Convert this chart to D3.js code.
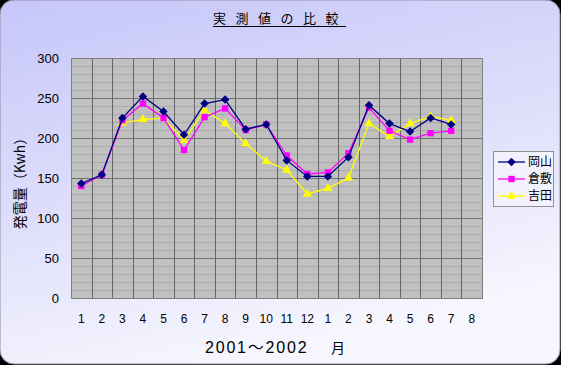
<!DOCTYPE html>
<html>
<head>
<meta charset="utf-8">
<script src="https://cdn.jsdelivr.net/npm/d3@7"></script>
<style>
  body { margin: 0; background: #000; }
  svg { display: block; }
  text { font-family: "Liberation Sans", "Noto Sans CJK JP", sans-serif; fill: #000; }
</style>
</head>
<body>
<div id="chart"></div>
<script>
var width = 561;
var height = 365;

// month labels on the x axis (2001-01 .. 2002-08)
var months = ["1", "2", "3", "4", "5", "6", "7", "8", "9", "10", "11", "12",
  "1", "2", "3", "4", "5", "6", "7", "8"];

// measured values (Kwh), null where nothing was measured
var okayama = [143, 154, 225, 252, 233, 204, 243, 248, 211, 217, 172, 152,
  152, 176, 241, 218, 208, 225, 217];
var kurashiki = [140, 154, 222, 243, 225, 185, 226, 237, 210, 217, 178, 155,
  157, 181, 238, 209, 198, 206, 209];
var yoshida = [null, null, 219, 223, 225, 197, 235, 218, 193, 171, 160, 130,
  137, 150, 218, 202, 218, 227, 222];

var seriesNames = ["岡山", "倉敷", "吉田"];
var yTicks = [0, 50, 100, 150, 200, 250, 300];

var plot = { left: 71, right: 482, top: 58, bottom: 298 };

const svg = d3
  .select("#chart")
  .append("svg")
  .attr("width", width)
  .attr("height", height);

// background gradient
const defs = svg.append("defs");
const grad = defs
  .append("linearGradient")
  .attr("id", "bg")
  .attr("x1", "0%")
  .attr("y1", "0%")
  .attr("x2", "35%")
  .attr("y2", "100%");
grad.append("stop").attr("offset", "0%").attr("stop-color", "#c6c6fa");
grad.append("stop").attr("offset", "55%").attr("stop-color", "#dedefb");
grad.append("stop").attr("offset", "100%").attr("stop-color", "#f6f6fe");

svg
  .append("rect")
  .attr("x", 0)
  .attr("y", 0)
  .attr("width", width - 1)
  .attr("height", height - 1)
  .attr("rx", 14)
  .attr("fill", "url(#bg)")
  .attr("stroke", "#9090a0")
  .attr("stroke-width", 1);

// scales
const xScale = d3
  .scaleBand()
  .domain(d3.range(months.length))
  .range([plot.left, plot.right]);

const yScale = d3.scaleLinear().domain([0, 300]).range([plot.bottom, plot.top]);

// plot area
svg
  .append("rect")
  .attr("x", plot.left)
  .attr("y", plot.top)
  .attr("width", plot.right - plot.left)
  .attr("height", plot.bottom - plot.top)
  .attr("fill", "#c0c0c0");

// minor horizontal grid every 10
svg
  .append("g")
  .selectAll("line")
  .data(d3.range(10, 300, 10).filter((d) => d % 50 !== 0))
  .enter()
  .append("line")
  .attr("x1", plot.left)
  .attr("x2", plot.right)
  .attr("y1", (d) => Math.round(yScale(d)) + 0.5)
  .attr("y2", (d) => Math.round(yScale(d)) + 0.5)
  .attr("stroke", "#ababab")
  .attr("stroke-width", 1);

// major horizontal grid every 50
svg
  .append("g")
  .selectAll("line")
  .data(yTicks)
  .enter()
  .append("line")
  .attr("x1", plot.left)
  .attr("x2", plot.right)
  .attr("y1", (d) => Math.round(yScale(d)) + 0.5)
  .attr("y2", (d) => Math.round(yScale(d)) + 0.5)
  .attr("stroke", "#707070")
  .attr("stroke-width", 1);

// vertical grid between months
svg
  .append("g")
  .selectAll("line")
  .data(d3.range(months.length + 1))
  .enter()
  .append("line")
  .attr("x1", (d) => Math.round(plot.left + d * xScale.bandwidth()) + 0.5)
  .attr("x2", (d) => Math.round(plot.left + d * xScale.bandwidth()) + 0.5)
  .attr("y1", plot.top)
  .attr("y2", plot.bottom)
  .attr("stroke", "#666666")
  .attr("stroke-width", 1);

svg
  .append("rect")
  .attr("x", plot.left + 0.5)
  .attr("y", plot.top + 0.5)
  .attr("width", plot.right - plot.left)
  .attr("height", plot.bottom - plot.top)
  .attr("fill", "none")
  .attr("stroke", "#808080");

// axes
svg
  .append("g")
  .attr("class", "y-axis")
  .attr("transform", `translate(${plot.left},0)`)
  .call(d3.axisLeft(yScale).tickValues(yTicks).tickSize(0).tickPadding(12))
  .call((g) => g.select(".domain").remove())
  .selectAll("text")
  .style("font-size", "13px")
  .style("font-family", "'Liberation Sans', sans-serif");

svg
  .append("g")
  .attr("class", "x-axis")
  .attr("transform", `translate(0,${plot.bottom})`)
  .call(
    d3
      .axisBottom(xScale)
      .tickFormat((i) => months[i])
      .tickSize(0)
      .tickPadding(16)
  )
  .call((g) => g.select(".domain").remove())
  .selectAll("text")
  .style("font-size", "12px")
  .style("font-family", "'Liberation Sans', sans-serif");

// marker shapes: square turned 45deg for the diamond
var diamond = {
  draw: function (ctx, size) {
    var r = Math.sqrt(size / 2);
    ctx.moveTo(0, -r);
    ctx.lineTo(r, 0);
    ctx.lineTo(0, r);
    ctx.lineTo(-r, 0);
    ctx.closePath();
  }
};

// series lines and markers
var series = [
  { name: seriesNames[0], values: okayama, color: "#000080", shape: diamond, size: 36 },
  { name: seriesNames[1], values: kurashiki, color: "#ff00ff", shape: d3.symbolSquare, size: 40 },
  { name: seriesNames[2], values: yoshida, color: "#ffff00", shape: d3.symbolTriangle, size: 36 }
];

const line = d3
  .line()
  .defined((d) => d != null)
  .x((d, i) => xScale(i) + xScale.bandwidth() / 2)
  .y((d) => yScale(d));

series
  .slice()
  .reverse()
  .forEach(function (s) {
    svg
      .append("path")
      .attr("d", line(s.values))
      .attr("fill", "none")
      .attr("stroke", s.color)
      .attr("stroke-width", 1.3);

    svg
      .append("g")
      .selectAll("path")
      .data(s.values.map((v, i) => [i, v]).filter((d) => d[1] != null))
      .enter()
      .append("path")
      .attr("d", d3.symbol().type(s.shape).size(s.size))
      .attr(
        "transform",
        (d) => `translate(${xScale(d[0]) + xScale.bandwidth() / 2},${yScale(d[1])})`
      )
      .attr("fill", s.color);
  });

// legend
const legend = svg.append("g").attr("transform", "translate(493,151)");
legend
  .append("rect")
  .attr("x", 0.5)
  .attr("y", 0.5)
  .attr("width", 60)
  .attr("height", 55)
  .attr("fill", "#f2f2fe")
  .attr("stroke", "#909090");

const item = legend
  .selectAll(".item")
  .data(series)
  .enter()
  .append("g")
  .attr("transform", (d, i) => `translate(0,${11 + i * 17})`);

item
  .append("line")
  .attr("x1", 5)
  .attr("x2", 32)
  .attr("stroke", (d) => d.color)
  .attr("stroke-width", 1.3);

item
  .append("path")
  .attr("d", (d) => d3.symbol().type(d.shape).size(d.size)())
  .attr("transform", "translate(18.5,0)")
  .attr("fill", (d) => d.color);

item
  .append("text")
  .attr("x", 35)
  .attr("y", 0)
  .attr("dy", "0.36em")
  .style("font-size", "12px")
  .style("font-family", "'Noto Sans CJK JP', sans-serif")
  .text((d) => d.name);

// title
svg
  .append("text")
  .attr("x", 213)
  .attr("y", 23)
  .style("font-size", "13px")
  .style("font-family", "'Noto Sans CJK JP', sans-serif")
  .style("letter-spacing", "9.5px")
  .text("実測値の比較");

svg
  .append("line")
  .attr("x1", 213)
  .attr("x2", 346)
  .attr("y1", 26.5)
  .attr("y2", 26.5)
  .attr("stroke", "#000")
  .attr("stroke-width", 1);

// axis labels
svg
  .append("text")
  .attr("x", 205)
  .attr("y", 353)
  .style("font-size", "16px")
  .style("letter-spacing", "1.8px")
  .text("2001～2002");

svg
  .append("text")
  .attr("x", 331)
  .attr("y", 353)
  .style("font-size", "14px")
  .style("font-family", "'Noto Sans CJK JP', sans-serif")
  .text("月");

svg
  .append("text")
  .attr("transform", "translate(25,180) rotate(-90)")
  .style("text-anchor", "middle")
  .style("font-size", "14px")
  .style("font-family", "'Noto Sans CJK JP', sans-serif")
  .text("発電量（Kwh）");
</script>
</body>
</html>
